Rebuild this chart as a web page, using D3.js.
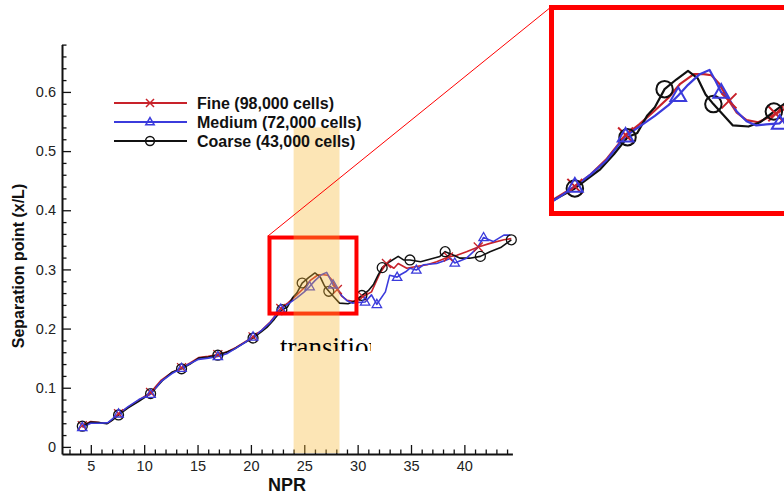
<!DOCTYPE html>
<html>
<head>
<meta charset="utf-8">
<script src="https://cdn.jsdelivr.net/npm/d3@7"></script>
<style>
  body { margin: 0; background: #fff; }
  svg { display: block; font-family: "Liberation Sans", Arial, sans-serif; }
</style>
</head>
<body>
<svg id="chart" width="784" height="494"></svg>
<script>
// ---- data: separation point (x/L) versus nozzle pressure ratio ----
const fineNPR = [4.2, 5.0, 5.8, 6.6, 7.1, 7.6, 8.5, 9.5, 10.6, 11.6, 12.6, 13.5, 14.3, 15.1, 16.0, 16.9, 17.8, 18.6, 19.4, 20.2, 21.0, 21.8, 22.8, 23.5, 24.3, 25.0, 25.6, 26.3, 26.8, 27.2, 27.6, 28.1, 28.5, 29.0, 29.6, 30.5, 31.3, 32.1, 32.7, 33.4, 33.8, 34.6, 35.5, 36.5, 37.4, 38.5, 39.3, 40.2, 41.3, 42.4, 43.7, 44.4];
const fineSep = [0.036, 0.043, 0.041, 0.040, 0.047, 0.056, 0.067, 0.079, 0.092, 0.113, 0.126, 0.134, 0.142, 0.151, 0.153, 0.156, 0.161, 0.168, 0.177, 0.186, 0.197, 0.211, 0.234, 0.244, 0.257, 0.269, 0.282, 0.291, 0.291, 0.290, 0.282, 0.266, 0.255, 0.248, 0.246, 0.254, 0.262, 0.294, 0.310, 0.302, 0.310, 0.302, 0.305, 0.308, 0.313, 0.321, 0.324, 0.330, 0.338, 0.344, 0.350, 0.352];
const fineMarks = [4.2, 7.6, 10.6, 13.5, 16.9, 20.2, 22.8, 28.1, 30.5, 32.7, 38.5, 41.3];

const mediumNPR = [4.2, 5.0, 5.8, 6.6, 7.2, 7.6, 8.5, 9.5, 10.6, 11.6, 12.6, 13.5, 14.3, 15.1, 16.0, 16.9, 17.8, 18.6, 19.4, 20.2, 21.0, 21.8, 22.8, 23.6, 24.3, 25.0, 25.5, 26.0, 26.6, 27.1, 27.4, 27.7, 28.1, 28.5, 29.0, 29.5, 30.0, 30.7, 31.3, 31.8, 32.6, 33.0, 33.7, 34.0, 34.5, 34.9, 35.5, 36.2, 37.4, 38.2, 38.7, 39.1, 40.2, 41.2, 41.8, 42.7, 43.7, 44.3];
const mediumSep = [0.033, 0.040, 0.040, 0.041, 0.050, 0.056, 0.068, 0.080, 0.089, 0.111, 0.124, 0.133, 0.141, 0.148, 0.150, 0.153, 0.158, 0.167, 0.176, 0.186, 0.197, 0.210, 0.233, 0.243, 0.252, 0.262, 0.271, 0.281, 0.291, 0.295, 0.285, 0.274, 0.268, 0.256, 0.247, 0.243, 0.244, 0.245, 0.257, 0.241, 0.262, 0.290, 0.287, 0.291, 0.296, 0.302, 0.299, 0.308, 0.310, 0.315, 0.319, 0.311, 0.319, 0.336, 0.354, 0.347, 0.358, 0.358];
const mediumMarks = [4.2, 7.6, 10.6, 13.5, 16.9, 20.2, 22.8, 25.5, 27.7, 30.7, 31.8, 33.7, 35.5, 39.1, 41.8];

const coarseNPR = [4.2, 5.0, 5.8, 6.5, 7.0, 7.6, 8.5, 9.5, 10.6, 11.7, 12.6, 13.5, 14.3, 15.1, 16.0, 16.9, 17.7, 18.4, 19.3, 20.2, 21.0, 21.5, 22.2, 22.9, 23.4, 23.9, 24.3, 24.8, 25.4, 26.0, 26.5, 26.9, 27.3, 27.8, 28.3, 29.1, 29.7, 30.4, 31.0, 31.5, 31.9, 32.3, 33.0, 33.8, 34.3, 34.9, 35.9, 36.5, 37.1, 37.7, 38.2, 39.0, 39.6, 40.5, 41.5, 42.4, 43.4, 44.4];
const coarseSep = [0.035, 0.042, 0.041, 0.039, 0.045, 0.054, 0.066, 0.077, 0.090, 0.112, 0.126, 0.132, 0.140, 0.150, 0.152, 0.155, 0.160, 0.165, 0.175, 0.184, 0.195, 0.202, 0.216, 0.232, 0.236, 0.252, 0.260, 0.277, 0.286, 0.294, 0.287, 0.272, 0.263, 0.253, 0.243, 0.242, 0.246, 0.256, 0.264, 0.275, 0.290, 0.303, 0.313, 0.322, 0.316, 0.316, 0.313, 0.316, 0.319, 0.322, 0.330, 0.324, 0.319, 0.319, 0.322, 0.330, 0.337, 0.350];
const coarseMarks = [4.2, 7.6, 10.6, 13.5, 16.9, 20.2, 22.9, 24.8, 27.3, 30.4, 32.3, 34.9, 38.2, 41.5, 44.4];

const seriesNames = ["Fine (98,000 cells)", "Medium (72,000 cells)", "Coarse (43,000 cells)"];
const xTicks = [5, 10, 15, 20, 25, 30, 35, 40];
const yTicks = [0, 0.1, 0.2, 0.3, 0.4, 0.5, 0.6];
const transitionRange = [24, 28.3];      // shaded transition band (NPR)
const transitionTop = 0.54;
const zoomBox = { x0: 21.74, x1: 29.89, y0: 0.2254, y1: 0.3539 };
const xLabel = "NPR";
const yLabel = "Separation point (x/L)";
const bandLabel = "transition";

// ---- series table ----
const series = [
  { name: seriesNames[0], npr: fineNPR,   sep: fineSep,   marks: fineMarks,   color: "#c8222a", symbol: "x" },
  { name: seriesNames[1], npr: mediumNPR, sep: mediumSep, marks: mediumMarks, color: "#3b3bdc", symbol: "tri" },
  { name: seriesNames[2], npr: coarseNPR, sep: coarseSep, marks: coarseMarks, color: "#111111", symbol: "circ" }
].map(s => ({
  ...s,
  points: s.npr.map((n, i) => ({ n, v: s.sep[i] })),
  markPts: s.marks.map(m => ({ n: m, v: s.sep[s.npr.indexOf(m)] }))
}));

const svg = d3.select("#chart");

// ---- main scales ----
const x = d3.scaleLinear().domain([2.3, 44.5]).range([62, 512.4]);
const y = d3.scaleLinear().domain([-0.012, 0.68]).range([454, 44.6]);

// ---- axes (ticks point inward) ----
const yMinor = d3.range(0, 0.681, 0.02).filter(v => Math.abs(v * 10 - Math.round(v * 10)) > 1e-6);
const xMinor = d3.range(3, 45, 1).filter(v => v % 5 !== 0);

const axisG = svg.append("g");
axisG.append("g").attr("transform", "translate(62,0)")
  .call(d3.axisLeft(y).tickValues(yMinor).tickSize(-4.5).tickSizeOuter(0).tickFormat(""))
  .call(g => g.select(".domain").remove());
axisG.append("g").attr("transform", "translate(0,454)")
  .call(d3.axisBottom(x).tickValues(xMinor).tickSize(-4.5).tickSizeOuter(0).tickFormat(""))
  .call(g => g.select(".domain").remove());

axisG.append("g").attr("transform", "translate(62,0)")
  .call(d3.axisLeft(y).tickValues(yTicks).tickSize(-9).tickSizeOuter(0).tickPadding(6)
    .tickFormat(d => d === 0 ? "0" : d.toFixed(1)));
axisG.append("g").attr("transform", "translate(0,454)")
  .call(d3.axisBottom(x).tickValues(xTicks).tickSize(-9).tickSizeOuter(0).tickPadding(7));

axisG.selectAll(".tick line").attr("stroke", "#111").attr("stroke-width", 1.3);
axisG.selectAll(".domain").attr("stroke", "#111").attr("stroke-width", 2);
axisG.selectAll(".tick text").attr("font-size", 14.5).attr("fill", "#222")
  .attr("font-family", "'Liberation Sans', Arial, sans-serif");

// axis titles
svg.append("text")
  .attr("transform", "translate(18,266) rotate(-90)")
  .attr("text-anchor", "middle").attr("dominant-baseline", "central")
  .attr("font-size", 16).attr("font-weight", "bold").attr("fill", "#111")
  .text(yLabel);
svg.append("text")
  .attr("x", 287).attr("y", 491).attr("text-anchor", "middle")
  .attr("font-size", 18).attr("font-weight", "bold").attr("fill", "#111")
  .text(xLabel);

// ---- marker drawing ----
function drawMarker(g, type, cx, cy, size, color, sw) {
  if (type === "x") {
    const h = size * 0.5;
    g.append("path")
      .attr("d", `M${cx - h},${cy - h}L${cx + h},${cy + h}M${cx - h},${cy + h}L${cx + h},${cy - h}`)
      .attr("stroke", color).attr("stroke-width", sw).attr("fill", "none");
  } else if (type === "tri") {
    const h = size * 0.55;
    g.append("path")
      .attr("d", `M${cx},${cy - h}L${cx + h * 0.95},${cy + h * 0.65}L${cx - h * 0.95},${cy + h * 0.65}Z`)
      .attr("stroke", color).attr("stroke-width", sw).attr("fill", "none");
  } else {
    g.append("circle").attr("cx", cx).attr("cy", cy).attr("r", size * 0.55)
      .attr("stroke", color).attr("stroke-width", sw).attr("fill", "none");
  }
}

function drawSeries(g, sx, sy, lineW, markSize, markW) {
  const line = d3.line().x(d => sx(d.n)).y(d => sy(d.v));
  const order = [0, 2, 1];
  order.forEach(i => {
    const s = series[i];
    g.append("path").datum(s.points)
      .attr("d", line).attr("fill", "none")
      .attr("stroke", s.color).attr("stroke-width", lineW)
      .attr("stroke-linejoin", "round");
  });
  order.forEach(i => {
    const s = series[i];
    s.markPts.forEach(p => drawMarker(g, s.symbol, sx(p.n), sy(p.v), markSize, s.color, markW));
  });
}

// ---- curves ----
const plotG = svg.append("g");
drawSeries(plotG, x, y, 1.6, 9, 1.3);

// zoom window on the main plot
svg.append("rect")
  .attr("x", x(zoomBox.x0)).attr("y", y(zoomBox.y1))
  .attr("width", x(zoomBox.x1) - x(zoomBox.x0))
  .attr("height", y(zoomBox.y0) - y(zoomBox.y1))
  .attr("fill", "none").attr("stroke", "#ff0000").attr("stroke-width", 4);

// transition band (translucent, over curves)
svg.append("rect")
  .attr("x", x(transitionRange[0])).attr("y", y(transitionTop))
  .attr("width", x(transitionRange[1]) - x(transitionRange[0]))
  .attr("height", 453 - y(transitionTop))
  .attr("fill", "#f7b733").attr("fill-opacity", 0.36);

// band caption, cut off by its frame
svg.append("clipPath").attr("id", "captionClip")
  .append("rect").attr("x", 270).attr("y", 325).attr("width", 101).attr("height", 26);
svg.append("text")
  .attr("clip-path", "url(#captionClip)")
  .attr("x", 280).attr("y", 356)
  .attr("font-family", "'Liberation Serif', 'Times New Roman', serif")
  .attr("font-size", 27).attr("fill", "#000")
  .text(bandLabel);

// ---- legend ----
const legend = svg.append("g");
series.forEach((s, i) => {
  const ly = 103 + i * 19;
  legend.append("line").attr("x1", 114).attr("x2", 187).attr("y1", ly).attr("y2", ly)
    .attr("stroke", s.color).attr("stroke-width", 1.8);
  drawMarker(legend, s.symbol, 150, ly, 8, s.color, 1.5);
  legend.append("text").attr("x", 197).attr("y", ly + 5.5)
    .attr("font-size", 16).attr("font-weight", "bold").attr("fill", "#111")
    .text(s.name);
});

// ---- magnified view ----
const zx = d3.scaleLinear().domain([19.08, 30.92]).range([553, 784]);
const zy = d3.scaleLinear().domain([0.162, 0.352]).range([212, 9]);

svg.append("line")
  .attr("x1", x(zoomBox.x0) - 1.5).attr("y1", y(zoomBox.y1) - 1.5)
  .attr("x2", 551).attr("y2", 7)
  .attr("stroke", "#ff0000").attr("stroke-width", 1);

svg.append("clipPath").attr("id", "insetClip")
  .append("rect").attr("x", 553).attr("y", 9.5).attr("width", 240).attr("height", 202);
const inset = svg.append("g").attr("clip-path", "url(#insetClip)");
inset.append("rect").attr("x", 553).attr("y", 9.5).attr("width", 240).attr("height", 202).attr("fill", "#fff");
drawSeries(inset, zx, zy, 2.2, 15, 2);

svg.append("rect")
  .attr("x", 551.5).attr("y", 7.5).attr("width", 260).attr("height", 206)
  .attr("fill", "none").attr("stroke", "#ff0000").attr("stroke-width", 5);
</script>
</body>
</html>
